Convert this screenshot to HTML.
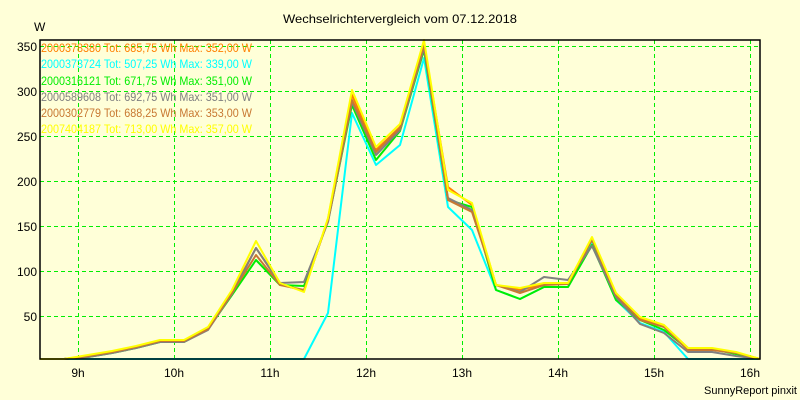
<!DOCTYPE html>
<html><head><meta charset="utf-8"><style>
html,body{margin:0;padding:0;background:#ffffd8;}
svg{display:block;font-family:"Liberation Sans",sans-serif;}
</style></head><body>
<svg width="800" height="400" xmlns="http://www.w3.org/2000/svg">
<rect width="800" height="400" fill="#ffffd8"/>
<text x="400" y="23" font-size="12" text-anchor="middle" fill="#000" textLength="234" lengthAdjust="spacingAndGlyphs">Wechselrichtervergleich vom 07.12.2018</text>
<text x="34" y="31" font-size="12" fill="#000">W</text>
<g stroke="#00ee00" stroke-dasharray="4,3" stroke-width="1">
<line x1="40" y1="46.5" x2="760" y2="46.5"/><line x1="40" y1="91.5" x2="760" y2="91.5"/>
<line x1="40" y1="136.5" x2="760" y2="136.5"/><line x1="40" y1="181.5" x2="760" y2="181.5"/>
<line x1="40" y1="226.5" x2="760" y2="226.5"/><line x1="40" y1="271.5" x2="760" y2="271.5"/>
<line x1="40" y1="316.5" x2="760" y2="316.5"/>
<line x1="78.5" y1="40" x2="78.5" y2="360"/><line x1="174.5" y1="40" x2="174.5" y2="360"/>
<line x1="270.5" y1="40" x2="270.5" y2="360"/><line x1="366.5" y1="40" x2="366.5" y2="360"/>
<line x1="462.5" y1="40" x2="462.5" y2="360"/><line x1="558.5" y1="40" x2="558.5" y2="360"/>
<line x1="654.5" y1="40" x2="654.5" y2="360"/><line x1="750.5" y1="40" x2="750.5" y2="360"/>
</g>
<g font-size="12" fill="#000" text-anchor="end">
<text x="37" y="51">350</text><text x="37" y="96">300</text><text x="37" y="141">250</text>
<text x="37" y="186">200</text><text x="37" y="231">150</text><text x="37" y="276">100</text><text x="37" y="321">50</text>
</g>
<g font-size="12" fill="#000" text-anchor="middle">
<text x="78" y="377">9h</text><text x="174" y="377">10h</text><text x="270" y="377">11h</text><text x="366" y="377">12h</text>
<text x="462" y="377">13h</text><text x="558" y="377">14h</text><text x="654" y="377">15h</text><text x="750" y="377">16h</text>
</g>
<text x="797" y="394" font-size="11" text-anchor="end" fill="#000">SunnyReport pinxit</text>
<g fill="none" stroke-width="2" stroke-linejoin="round">
<polyline stroke="#ff8000" points="40,359 64,359 88,356 112,352 136,347 160,341 184,341 208,328 232,292 256,248 280,284 304,291 328,219 352,95 376,150 400,127 424,44 448,187 472,205 496,285 520,290 544,284 568,284 592,239 616,294 640,318 664,326 688,348 712,349 736,353 760,359"/>
<polyline stroke="#00ffff" points="40,359 304,359 328,313 352,113 376,165 400,145 424,58 448,207 472,230 496,290 520,299 544,287 568,287 592,243 616,300 640,323 664,332 688,359 760,359"/>
<polyline stroke="#00ee00" points="40,359 64,359 88,357 112,353 136,348 160,342 184,342 208,329 232,295 256,260 280,285 304,286 328,221 352,105 376,160 400,131 424,50 448,200 472,207 496,290 520,299 544,287 568,287 592,245 616,300 640,320 664,330 688,349 712,349 736,354 760,359"/>
<polyline stroke="#808080" points="40,359 64,359 88,357 112,353 136,348 160,342 184,342 208,330 232,294 256,248 280,283 304,282 328,222 352,102 376,155 400,130 424,48 448,198 472,210 496,285 520,292 544,277 568,280 592,246 616,297 640,324 664,333 688,352 712,352 736,356 760,359"/>
<polyline stroke="#c87832" points="40,359 64,359 88,356 112,352 136,347 160,341 184,341 208,329 232,293 256,255 280,285 304,290 328,220 352,100 376,152 400,128 424,45 448,200 472,212 496,285 520,293 544,285 568,284 592,240 616,295 640,320 664,327 688,350 712,350 736,353 760,359"/>
<polyline stroke="#ffff00" points="40,359 64,359 88,355 112,351 136,346 160,340 184,340 208,327 232,290 256,241 280,283 304,292 328,218 352,90 376,147 400,124 424,40 448,190 472,203 496,285 520,288 544,283 568,283 592,237 616,293 640,317 664,325 688,348 712,348 736,352 760,359"/>
</g>
<rect x="40" y="40" width="720" height="319" fill="none" stroke="#000" stroke-width="1.5"/>
<g font-size="12">
<text x="41" y="52" fill="#ff8000" textLength="211" lengthAdjust="spacingAndGlyphs">2000378380 Tot: 685,75 Wh Max: 352,00 W</text>
<text x="41" y="68" fill="#00ffff" textLength="211" lengthAdjust="spacingAndGlyphs">2000373724 Tot: 507,25 Wh Max: 339,00 W</text>
<text x="41" y="85" fill="#00ee00" textLength="211" lengthAdjust="spacingAndGlyphs">2000316121 Tot: 671,75 Wh Max: 351,00 W</text>
<text x="41" y="101" fill="#808080" textLength="211" lengthAdjust="spacingAndGlyphs">2000589608 Tot: 692,75 Wh Max: 351,00 W</text>
<text x="41" y="117" fill="#c87832" textLength="211" lengthAdjust="spacingAndGlyphs">2000302779 Tot: 688,25 Wh Max: 353,00 W</text>
<text x="41" y="133" fill="#ffff00" textLength="211" lengthAdjust="spacingAndGlyphs">2007404187 Tot: 713,00 Wh Max: 357,00 W</text>
</g>
</svg>
</body></html>
